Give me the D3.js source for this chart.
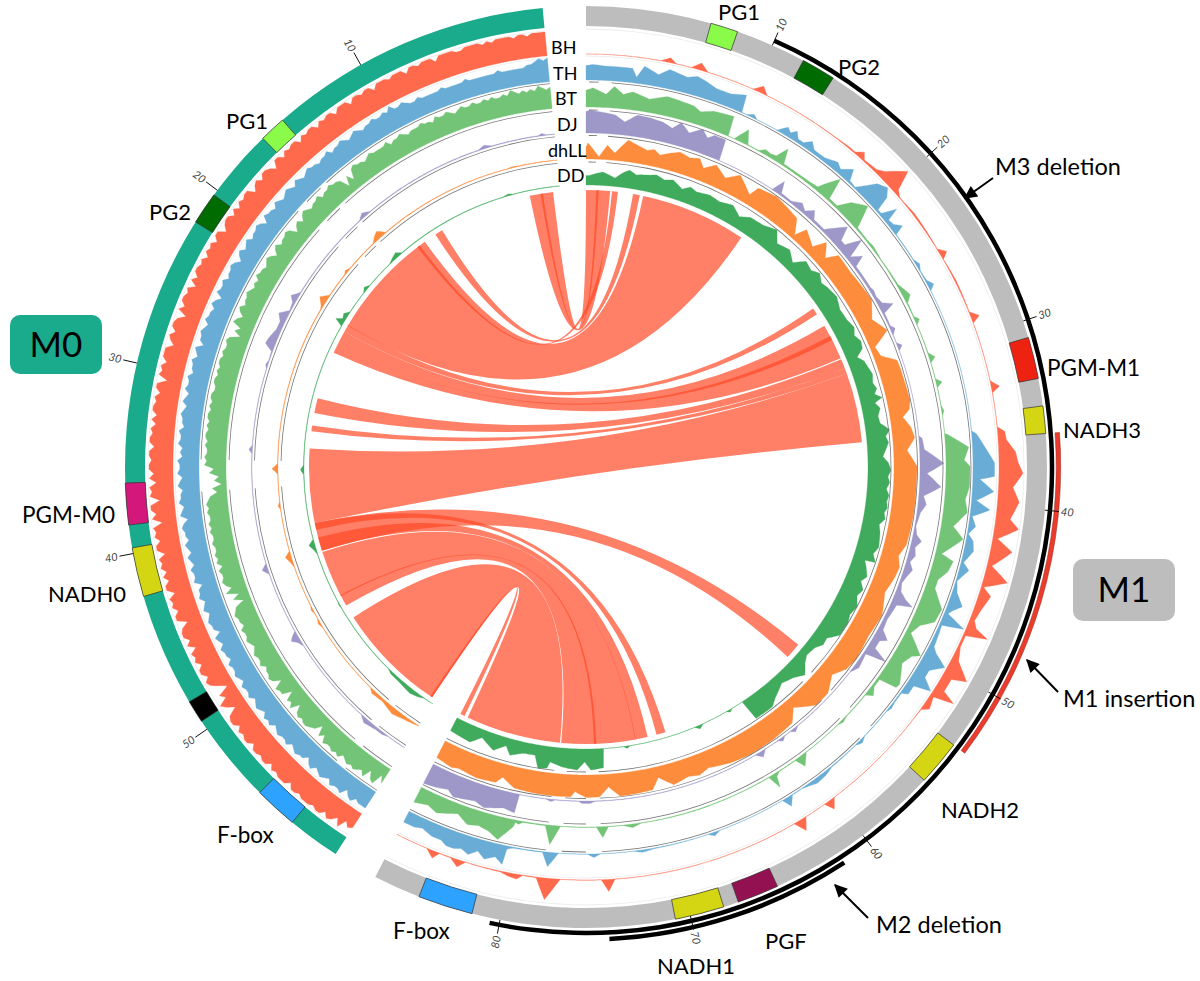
<!DOCTYPE html>
<html><head><meta charset="utf-8">
<script src="https://cdn.jsdelivr.net/npm/d3@7"></script>
<style>html,body{margin:0;background:#fff}svg{display:block}text{font-family:Lato,"Open Sans",sans-serif;fill:#000}</style>
</head><body><svg id="c" width="1200" height="981"></svg>
<script>
// ---- sector lengths (Mb-like ruler units)
const M0_LEN = 59.4, M1_LEN = 86.9;
const M0_TICKS = [10,20,30,40,50];
const M1_TICKS = [10,20,30,40,50,60,70,80];
// ---- annotated gene boxes [start,end,colour]
const M0_GENES = [[15,16.4,"#8BFB49"],[20.3,22,"#006B00"],[36.3,38.5,"#D4177A"],[39.7,42.3,"#D4D614"],[48.3,49.5,"#000000"],[54.3,56.6,"#2EA2FF"]];
const M1_GENES = [[6.6,8.05,"#8BFB49"],[11.8,13.6,"#006B00"],[30.9,33.1,"#EE2211"],[34.55,36,"#D4D614"],[53.3,55.7,"#D4D614"],[65.2,67.4,"#931150"],[68.2,70.8,"#D4D614"],[81.5,84.4,"#2EA2FF"]];
// ---- structural-variant arcs on M1
const M3_DEL = [10,80.5];
const M2_DEL = [61.6,74.3];
const M1_INS = [36,53.3];
// ---- M0 coverage, evenly spaced along M0
const BH_M0 = [10,10,10,10,9,10,10,9,10,10,10,10,9,10,9,10,10,10,10,9,9,10,10,10,10,8,10,10,10,9,10,10,8,10,10,10,9,10,10,10,8,10,10,9,10,10,8,10,
 10,10,8,10,10,9,10,8,10,10,9,10,8,10,10,9,10,8,10,10,7,9,10,10,8,10,9,7,10,10,9,10,8,10,8,10,10,9,7,10,10,8,10,9,10,8,10,9,
 10,10,8,10,7,10,9,10,10,8,10,6,9,10,10,8,10,9,7,10,10,10,8,10,9,10,6,10,10,8,10,9,10,10,8,10,8,10,9,10,10,8,10,10,9,10,10,8,
 10,7,10,9,10,6,10,10,8,10,6,10,9,10,8,10,10,7,10,9,10,8,10,8,10,10,7,10,9,10,8,10,10,6,9,10,10,8,10,7,10,9,10,8,10,10,8,10,
 9,6,3,8,6,10,8,5,9,10,10,8,10,9,10,10,8,10,10,9,10,10,8,10,9,10,10,10,8,10,10,9,10,10,10,9,10,10,8,10,9,7,10,6,8,7];
const TH_M0 = [10,9,10,9,8,8,7,7,7,7,7,7,8,7,7,7,7,7,7,7,8,7,7,7,7,7,8,7,7,7,7,7,8,7,7,8,9,8,8,10,8,9,8,8,9,8,8,7,
 8,9,8,7,8,9,8,8,7,9,8,8,7,8,8,9,8,7,8,9,7,8,9,8,7,8,9,7,8,8,9,6,8,9,8,8,7,9,8,7,9,8,6,8,9,8,8,7,
 9,8,8,9,6,8,9,7,8,8,9,7,8,9,8,8,6,9,8,7,9,8,8,7,9,8,8,9,7,8,9,7,8,9,8,8,7,9,8,8,9,7,8,7,9,8,8,9,
 7,8,9,7,8,8,9,7,8,9,6,8,9,8,8,7,9,8,7,9,8,7,9,8,8,9,6,8,8,9,7,8,9,7,8,9,8,8,6,9,8,7,9,8,8,7,9,8,
 8,9,8,7,9,8,8,9,7,8,9,8,7,9,8,9,7,8,9,8,8,9,7,8,9,8,8,6,8,9,7,8,9,8,7,9,8,8,9,6,8,9,7,8,8,8];
const BT_M0 = [9,8,9,10,8,9,8,9,8,9,10,8,9,8,8,9,8,9,8,8,9,8,8,9,8,7,8,9,8,8,9,7,8,8,9,8,8,8,7,8,9,8,8,7,9,8,8,8,
 8,9,8,7,8,8,9,8,4,7,3,7,8,8,9,8,8,7,9,8,8,7,8,9,8,6,8,7,5,8,9,8,8,7,9,8,6,8,9,8,7,8,8,9,7,8,7,8,
 9,8,8,7,9,8,6,8,9,5,7,4,8,9,8,8,9,8,9,9,8,9,8,9,9,8,8,9,9,8,9,8,9,9,8,9,8,9,9,8,9,8,8,9,8,9,5,7,
 3,5,2,6,4,7,8,9,8,9,8,8,9,8,9,8,8,9,8,8,9,8,9,7,9,8,8,9,8,6,9,4,7,3,7,8,9,8,8,7,9,8,8,9,8,7,8,9,
 8,8,9,7,8,8,9,8,5,9,8,8,4,8,7,9,5,8,9,8,9,9,8,7,4,8,6,9,8,8,9,8,9,7,8,9,8,9,8,7,9,5,8,9,4,7];
// ---- remaining M0 coverage as [position,value]
const DJ_M0 = [[0,.2],[.6,.3],[.9,1],[1.2,.3],[4.6,.3],[5.1,1.5],[5.6,.3],[14.6,.3],[15.1,2],[15.6,.3],[22.3,.3],[22.8,3],[23.2,1],[23.8,.5],[24.3,4],[24.8,2],[25.4,2],[26.2,3.6],[26.6,4],[27,.5],[27.7,.3],[28,1],[28.3,.2],[33.9,.2],[34.2,1.5],[34.5,.2],[42.5,.2],[42.9,2.5],[43.3,.2],[47.8,.2],[48.1,2.5],[48.3,3.5],[48.6,1.5],[49,.2],[55.5,.2],[56,2],[57,1],[57.5,1],[58,.2],[59.4,.2]];
const DHLL_M0 = [[0,.2],[3,.3],[3.5,.5],[4,.2],[14.7,.3],[15,2],[15.2,3],[15.6,2],[16,.3],[18.7,.3],[19,1.2],[19.3,.3],[21.3,.3],[21.8,3.3],[22.3,1],[22.6,.3],[35.2,.2],[35.6,2.5],[36,.2],[38.2,.2],[38.5,1],[38.8,.2],[42.1,.2],[42.5,2.5],[43,1],[43.4,.2],[46.7,.2],[47,.8],[47.4,.2],[47.8,.2],[48.2,1],[48.6,.2],[54.6,.2],[55,1.5],[56,1],[57.2,2.5],[58,1.5],[59.4,.2]];
const DD_M0 = [[0,.2],[4,.2],[4.4,.8],[4.9,.2],[14.8,.3],[15.2,2],[15.8,1],[16.2,.2],[18.7,.2],[19.1,1.5],[19.5,.2],[21.5,.2],[21.9,2],[22.3,1.2],[22.6,3.7],[22.9,.2],[35.3,.2],[35.7,1.5],[36.1,.2],[41.7,.2],[42.1,2.5],[42.6,1],[43,.2],[47.4,.2],[47.7,.5],[48,.2],[54.6,.2],[55,1],[56,1.2],[57.3,2],[58,1.2],[58.5,.2],[59.4,.1]];
// ---- M1 coverage as [position,value]
const BH_M1 = [[0,0],[4.4,.1],[4.9,2],[5.3,.1],[6.2,.1],[6.7,3],[7.2,.1],[10,.1],[10.5,3],[10.9,.1],[15.5,.2],[16.5,.6],[17,.6],[17.4,3],[17.7,.6],[18.6,1.2],[19,3],[19.9,10],[20.3,2],[20.7,.3],[21,.3],[22,.8],[24.4,.2],[24.8,3],[25.1,.2],[26.5,.6],[28.5,.2],[28.9,3.5],[29.2,.1],[32.7,.1],[33.1,3.5],[33.4,.1],[35.4,.1],[35.7,3],[36.2,3.5],[36.9,7],[37.5,8],[38.1,10],[38.9,6],[39.7,9],[40.7,6],[41.2,10],[41.9,2],[42.5,9],[43.5,2],[44.2,10],[44.8,1],[45.2,5],[46.1,3],[46.8,2],[47.2,4],[47.5,10],[47.8,1],[48.5,1],[49.3,3],[50.1,10],[50.4,4],[51.2,4],[51.5,10],[51.8,1.5],[52.5,3],[52.8,.3],[53.6,.1],[60,.1],[60.4,4],[60.7,.1],[62,.1],[62.4,5],[62.8,.1],[73.8,.1],[74.2,5],[74.6,.1],[77,.1],[77.8,9],[78.4,.3],[79.2,.2],[79.5,2],[80,1.5],[80.5,.4],[82.6,.1],[83,3],[83.5,.3],[84.2,.2],[84.5,3],[85,.1],[86.9,.1]];
const TH_M1 = [[0,6],[.4,6.5],[1.1,6],[1.9,6],[2.8,6],[3.1,2.5],[3.5,7.5],[4.4,5],[5,8],[6.1,6.5],[6.7,8],[7.3,7],[8,5.5],[8.9,5.5],[9.8,7.5],[9.95,.2],[10.3,.2],[10.7,1.5],[11,.1],[12.4,.2],[12.9,3.5],[13.2,2],[13.5,4],[13.8,1.5],[14.2,1.5],[14.6,4],[15,1.5],[15.8,1.5],[16.6,3.5],[17,2],[17.6,5.5],[17.9,1],[18.4,.5],[18.8,4],[19.2,8],[19.8,10],[20.2,7],[20.4,.8],[20.7,1],[21.1,7],[21.3,1.5],[21.7,2],[22.1,4.5],[22.3,.3],[24.2,.3],[24.6,1.5],[25,.3],[25.7,.6],[26.1,2.5],[26.4,.1],[35.5,.1],[35.7,2],[36.5,5],[37.5,9],[38.3,9],[38.5,3],[39.2,9],[39.8,2],[40.3,8],[40.8,1],[41.4,3],[41.9,.5],[42.3,3],[42.9,4],[43.7,1],[44.1,4],[44.9,.5],[45.6,2],[46.3,6],[46.7,3],[47,1.5],[47.5,10],[47.8,1],[49.2,2],[49.5,4],[50,10],[50.6,5],[51.1,5],[51.6,10],[51.9,3],[52.5,3],[52.7,.5],[53.4,.5],[53.8,1],[54.2,.2],[56.2,.2],[56.6,1.5],[57,.2],[59,.4],[59.6,1.5],[60.3,2],[60.8,1],[61.3,.2],[62,.3],[62.4,4],[62.7,.1],[67,.1],[67.4,1.5],[67.8,.1],[71.2,.3],[72,1],[72.5,.1],[74.6,.1],[75,1.5],[75.4,.1],[77.2,.1],[77.8,6],[78.2,.3],[80,.4],[80.3,1],[80.4,1.5],[80.5,8],[81,5.5],[81.6,7.5],[82.1,5],[82.6,7.5],[83.1,6],[83.5,7],[84,7],[84.4,5.5],[85,5.5],[85.7,4],[86.2,5],[86.9,5]];
const BT_M1 = [[0,7],[.45,8],[1.3,5.5],[1.8,9],[2.4,6],[3,7.5],[4.1,5.5],[5.2,8],[7,7],[7.5,5.5],[8.3,7.5],[9.6,8.5],[9.75,.2],[10.2,.2],[10.8,6],[11.2,.3],[12,.3],[12.4,2],[12.8,1.5],[13.2,2],[13.6,7],[13.9,.8],[15,.8],[16,1],[16.6,1.5],[17,6],[17.4,10],[17.7,1],[18.4,1],[18.9,6],[19.8,10],[20.4,.8],[21.4,.6],[22,1],[23,.3],[25,.6],[26,3],[26.4,.5],[27.4,.3],[27.7,2],[28,.2],[30,.3],[30.4,2.5],[30.7,.2],[31.8,.2],[32.1,2.5],[32.4,.2],[33.6,.2],[34,1],[34.3,.1],[35.5,.1],[35.6,1.4],[36,5],[36.5,9.7],[37.3,7.6],[37.7,10],[39,10],[39.8,8.6],[40.6,10],[41.6,5],[42.3,10],[43.5,2.5],[43.8,8],[44.5,7],[45.2,4],[45.8,4],[46.4,7],[46.9,9.7],[47.8,9],[48.4,4],[49.1,2],[50.1,10],[50.4,7],[51.1,5],[52.3,9],[52.6,8.5],[52.8,1],[53.4,1],[53.9,3],[54.2,.3],[56.1,.3],[56.5,1],[56.9,.2],[59.7,.2],[60.3,4.5],[60.6,.3],[61.9,.3],[62.2,1.5],[62.4,6],[62.7,.3],[65,.2],[68,.3],[71.8,.2],[72.4,1.5],[73,.2],[74,.2],[74.4,4.5],[74.8,.2],[77.2,.2],[77.8,8],[78.2,.4],[79.7,.4],[80,1.5],[80.2,1],[80.3,3],[81.1,9.5],[81.8,7],[82.5,6],[83.2,7],[84,4],[85.3,7],[86,5.5],[86.9,7]];
const DJ_M1 = [[0,9],[.3,9.5],[1.4,8.6],[2,8],[2.7,5.5],[3.5,9],[4.4,8.7],[5.3,8],[6,6.5],[6.5,9.7],[7.2,6.5],[8,9.8],[8.5,7],[8.9,9],[9.7,9],[9.85,.1],[14.2,.2],[14.6,5.7],[14.9,1],[15.8,.8],[16.5,3],[17,1.2],[17.5,4],[17.9,1],[18.9,1],[19.9,8.7],[20.3,3],[20.7,3],[21.2,9.7],[21.6,1.5],[22.1,5.7],[22.4,1],[24.2,1],[24.5,1.5],[25,1],[25.6,2],[26,5.8],[26.3,.8],[27.3,.6],[27.6,2],[28,.2],[28.6,.2],[28.9,2],[29.2,.1],[35.5,.1],[35.7,1.4],[36.5,2],[37.5,10],[38.2,3],[39.1,9],[39.8,2],[40.4,3.5],[41,1.5],[42,.5],[42.6,1.5],[43,4],[43.5,2],[44.1,3],[44.6,1.5],[45.1,3.5],[45.7,2],[46.2,1],[46.8,2],[47.2,5],[47.5,8.8],[47.8,2.5],[49,1.5],[49.8,2],[50.3,5.7],[50.6,3],[51.2,3],[51.6,9.7],[51.9,1],[53,2],[53.6,.2],[59,.2],[59.4,1.5],[59.7,.2],[60.2,.2],[60.5,1.5],[60.8,.2],[61.9,.2],[62.3,2.5],[62.7,.2],[74.8,.2],[75.2,1],[75.8,1],[76,.2],[77.7,.2],[78,1],[78.4,.2],[80.3,.2],[80.4,8],[81.2,7],[82.5,9],[83.2,7.5],[84.7,9],[85.2,7],[86.1,8.3],[86.9,9]];
const DHLL_M1 = [[0,5],[.15,6.7],[1,1],[1.6,6],[2.2,3],[3.1,9],[3.8,7.5],[4.6,6],[5.1,7],[5.6,5.2],[6.3,7],[7,8.6],[7.8,7.5],[8.5,8.7],[9,5.4],[9.8,8.7],[10.8,5.3],[11.7,9.2],[13,4],[13.3,8.2],[14.8,9.5],[16.9,7.5],[17.6,1.7],[18,6.7],[19.2,3.3],[19.7,8.7],[20.5,4],[21,8.9],[22.5,8.5],[24.1,9.2],[25,9.6],[26.3,5.7],[27.5,9.5],[28.3,2],[29.1,3],[29.8,8.7],[30.6,9],[31.1,9],[32.6,9.4],[32.8,9.6],[33.5,8.5],[34,5.3],[34.8,8],[35.6,9.2],[36.5,5.6],[37.7,9.6],[39,9.5],[41,9.6],[42.5,9.3],[43.5,9],[44.4,7],[45.2,8.8],[46,8.3],[47.3,6.7],[48.3,8.5],[48.9,9.6],[50.7,8.8],[52.6,9.8],[53.6,9],[54.6,5.8],[55.8,9.6],[57,9.8],[58.4,4],[59.2,8.6],[61,9.4],[63,9.7],[64.6,8.8],[66.2,7],[67,8.5],[67.8,7.5],[69,9],[70,4.5],[70.6,9],[72,9.4],[73,9.5],[73.8,5.3],[74.5,9.2],[75.5,9.4],[76.3,7],[76.6,9.2],[78,9.4],[79.5,9.2],[80.8,8.7],[81.8,5.5],[82.2,8.3],[83.6,9],[85.1,8],[85.6,8.8],[86.9,7.7]];
const DD_M1 = [[0,4],[.3,4],[.9,5],[1.4,5.6],[2.4,3.5],[3,6],[3.5,7.5],[4.1,6],[4.6,6.5],[5.2,7],[5.7,7.7],[6.4,6.5],[7.1,7.5],[8,5],[8.6,7],[9.2,6],[10.3,7],[11.2,6.2],[12.3,7.6],[13.2,4.8],[14,7],[15.2,7.4],[16.3,9.3],[17,5],[18.1,6.6],[19,3.6],[19.7,8],[20.5,7],[21.1,9],[21.8,7],[22.4,7.9],[23.4,8.8],[24.4,7],[25.4,7.3],[26.2,8.5],[26.8,7],[27.4,8.5],[28,7.8],[28.5,4.4],[29,6.5],[29.6,7.2],[30.2,8],[30.9,7],[31.4,8],[31.8,6.5],[32.2,9.2],[32.5,5.8],[33,7.5],[33.6,6],[34.2,6.4],[34.8,10],[35.3,8],[35.8,9],[36.4,7.5],[36.9,6.3],[37.4,8.5],[38,9.6],[38.5,8.4],[39,9.2],[39.5,8],[40,9.3],[40.5,8.6],[41,9.2],[41.4,8.2],[41.9,9],[42.4,7],[43,8],[43.6,8.5],[44.2,9],[44.8,7.5],[45.4,9.4],[45.5,5],[46,6.5],[46.7,8.2],[47.2,6.5],[47.8,8.8],[48.4,7.5],[49.2,9.6],[50,8.5],[50.7,9.6],[51.8,9.4],[52.6,5.6],[53.2,6],[53.8,4],[54.7,3.3],[55.3,5],[56,8.3],[56.8,5.7],[57.8,4],[59,6.9],[59.6,9],[61.2,9],[61.4,.1],[62.4,.1],[62.7,1],[63,.1],[65.2,.1],[65.6,1.5],[66,.1],[71.7,.1],[72,1],[72.3,.1],[74,.1],[74.1,8],[75.1,8.8],[75.6,5.4],[76.2,8.8],[77.3,8],[78.4,6.3],[78.6,9],[79.3,9.6],[79.7,4.4],[80.7,4.6],[81.7,6.7],[82.2,3.3],[83.1,6.7],[84.3,3.3],[85.1,6.9],[86.9,6]];
// ---- synteny ribbons: [M0 start, M0 end, M1 start, M1 end]
const RIBBONS = [
 [.6,2.65,0,2.1],[1.5,1.7,.9,1.1],[13.2,13.45,2.26,2.78],[10.85,11.55,4.1,4.7],[12.65,22.6,5,14.3],
 [22.55,23.2,23.1,23.7],[23.2,25.25,24.9,28.05],[24.5,24.5,25.9,26.3],
 [29.45,30.75,28.15,29],[31.85,32.35,29,29.5],[33.85,40.35,29.5,35.6],
 [40.35,42.85,54.5,55.9],[40.35,40.95,68.5,69.3],[41.65,42.85,70.1,71.2],
 [42.95,48.05,71.15,77.65],[47,47.1,74.6,74.8],[49.25,59.05,77.75,86.1],[58.85,59.05,86.4,86.8]
];
// ---- dark-grey track lines: visible ruler spans
const M0_GUIDE = [[0,15.5],[16,17.2],[18,35],[37,56.3],[57,59.4]];
const M1_GUIDE = [[.2,.8],[1.6,55.5],[56.5,74.5],[75.5,77],[78,86.9]];
// ---- text [label,x,baseline,size]
const LABELS=[["PG1",718,20,22],["PG2",838,75,22],["M3 deletion",995,175,23.5],["PGM-M1",1047,376,22.5],["NADH3",1063,438,22],["M1 insertion",1063,707,23.5],["NADH2",941,818,22],["M2 deletion",876,933,23.5],["PGF",765,949,22],["NADH1",657,974,22],["F-box",393,939,22.5],["F-box",217,843,22.5],["NADH0",48,602,22],["PGM-M0",22,523,22.5],["PG2",149,220,22],["PG1",226,129,22]];
const TRACK_LABELS=[["BH",551,54],["TH",553,80],["BT",555,105],["DJ",557,131],["dhLL",548,157],["DD",557,182]];

const cx=586, cy=467, rad=Math.PI/180;
const angM0=d3.scaleLinear().domain([0,M0_LEN]).range([354.6*rad,212.9*rad]);
const angM1=d3.scaleLinear().domain([0,M1_LEN]).range([0,207.2*rad]);
const TRACKS=[
 {name:"BH",  base:413, color:"#FF6A4D", m0:BH_M0,   m1:BH_M1},
 {name:"TH",  base:387, color:"#69ADD6", m0:TH_M0,   m1:TH_M1},
 {name:"BT",  base:360, color:"#73C476", m0:BT_M0,   m1:BT_M1},
 {name:"DJ",  base:334, color:"#9E98C8", m0:DJ_M0,   m1:DJ_M1},
 {name:"dhLL",base:308, color:"#FD8D3C", m0:DHLL_M0, m1:DHLL_M1},
 {name:"DD",  base:282, color:"#41AB5D", m0:DD_M0,   m1:DD_M1}
];
const svg=d3.select("#c");
const g=svg.append("g").attr("transform",`translate(${cx},${cy})`);
const defs=svg.append("defs");
defs.append("marker").attr("id","ah").attr("viewBox","0 0 10 10").attr("refX",9).attr("refY",5)
 .attr("markerWidth",7.5).attr("markerHeight",6.5).attr("markerUnits","strokeWidth").attr("orient","auto")
 .append("path").attr("d","M0,0L10,5L0,10Z").attr("fill","#000");

const arc=d3.arc();
const band=(ang,a,b,r0,r1)=>{let s=ang(a),e=ang(b);if(s>e)[s,e]=[e,s];return arc({innerRadius:r0,outerRadius:r1,startAngle:s,endAngle:e});};

// outer rings
g.append("path").attr("d",band(angM0,0,M0_LEN,441,461)).attr("fill","#1AAB8C");
g.append("path").attr("d",band(angM1,0,M1_LEN,441,461)).attr("fill","#BDBDBD");
[[angM0,M0_GENES],[angM1,M1_GENES]].forEach(([ang,genes])=>{
 g.selectAll(null).data(genes).enter().append("path")
  .attr("d",d=>band(ang,d[0],d[1],441,461)).attr("fill",d=>d[2]).attr("stroke","#333").attr("stroke-width",.7);
});
// pale guide rings
[438,411].forEach(r=>{
 [[angM0,M0_LEN],[angM1,M1_LEN]].forEach(([ang,len])=>{
  g.append("path").attr("d",band(ang,0,len,r-.4,r+.4)).attr("fill","#ececec");
 });
});
// coverage tracks
const rScale=base=>d3.scaleLinear().domain([0,10]).range([base,base+24]);
function drawTrack(ang,len,pairs,base,color){
 const ps=pairs.map(d=>d[0]), vs=pairs.map(d=>d[1]);
 const val=d3.scaleLinear().domain(ps).range(vs);
 const rows=Array.from(new Set([...ps,...d3.range(ps[0],len,.1)])).sort(d3.ascending).filter(p=>p<=len);
 const r=rScale(base);
 const area=d3.areaRadial().angle(p=>ang(p)).innerRadius(base).outerRadius(p=>r(val(p)));
 g.append("path").attr("d",area(rows)).attr("fill",color).attr("stroke",color).attr("stroke-width",.3);
}
TRACKS.forEach(t=>{
 const m0=Array.isArray(t.m0[0])?t.m0:t.m0.map((v,i)=>[i*M0_LEN/(t.m0.length-1),v]);
 drawTrack(angM0,M0_LEN,m0,t.base,t.color);
 drawTrack(angM1,M1_LEN,t.m1,t.base,t.color);
});
// dark guide lines under TH, BT, DJ, dhLL
[385,357,331.5,305].forEach(r=>{
 [[angM0,M0_GUIDE],[angM1,M1_GUIDE]].forEach(([ang,segs])=>{
  segs.forEach(s=>g.append("path").attr("d",band(ang,s[0],s[1],r-.4,r+.4)).attr("fill","#777"));
 });
});
// ribbons
const ribbon=d3.ribbon().radius(277);
g.selectAll(null).data(RIBBONS).enter().append("path")
 .attr("d",d=>ribbon({source:{startAngle:angM0(d[1]),endAngle:angM0(d[0])},target:{startAngle:angM1(d[2]),endAngle:angM1(d[3])}}))
 .attr("fill","rgb(255,72,39)").attr("fill-opacity",.7);
// SV arcs
const svArc=(rng,r,w,fill,stroke)=>g.append("path").attr("d",band(angM1,rng[0],rng[1],r-w/2,r+w/2)).attr("fill",fill).attr("stroke",stroke||"none").attr("stroke-width",.5);
svArc(M3_DEL,466,4.5,"#000");
svArc(M2_DEL,472.5,4.5,"#000");
svArc(M1_INS,472.5,4.5,"#EB3B2C","#8a2a20");
// ticks
function ticks(ang,vals){
 vals.forEach(v=>{
  const th=ang(v), deg=th/rad, sin=Math.sin(th), cos=-Math.cos(th);
  g.append("line").attr("x1",461*sin).attr("y1",461*cos).attr("x2",475*sin).attr("y2",475*cos).attr("stroke","#111").attr("stroke-width",1);
  const left=deg>180, rot=left?deg+90:deg-90;
  g.append("text").attr("transform",`translate(${477*sin},${477*cos}) rotate(${rot})`)
   .attr("text-anchor",left?"end":"start").attr("dy","0.35em")
   .style("font-size","11px").style("font-style","italic").style("fill","#444").text(v);
 });
}
ticks(angM0,M0_TICKS);
ticks(angM1,M1_TICKS);
// text labels
svg.selectAll(null).data(LABELS).enter().append("text").attr("x",d=>d[1]).attr("y",d=>d[2]).style("font-size",d=>d[3]+"px").text(d=>d[0]);
svg.selectAll(null).data(TRACK_LABELS).enter().append("text").attr("x",d=>d[1]).attr("y",d=>d[2]).style("font-size","18px").text(d=>d[0]);
// sector boxes
[["M0",10,315,92,59,"#1AAB8C"],["M1",1073,559,102,62,"#BDBDBD"]].forEach(d=>{
 svg.append("rect").attr("x",d[1]).attr("y",d[2]).attr("width",d[3]).attr("height",d[4]).attr("rx",10).attr("fill",d[5]);
 svg.append("text").attr("x",d[1]+d[3]/2).attr("y",d[2]+d[4]/2+12).attr("text-anchor","middle").style("font-size","35px").text(d[0]);
});
// arrows
[[1058,692,1027,660],[993,178,965,198],[868,918,835,885]].forEach(a=>{
 svg.append("line").attr("x1",a[0]).attr("y1",a[1]).attr("x2",a[2]).attr("y2",a[3]).attr("stroke","#000").attr("stroke-width",2).attr("marker-end","url(#ah)");
});
</script></body></html>
